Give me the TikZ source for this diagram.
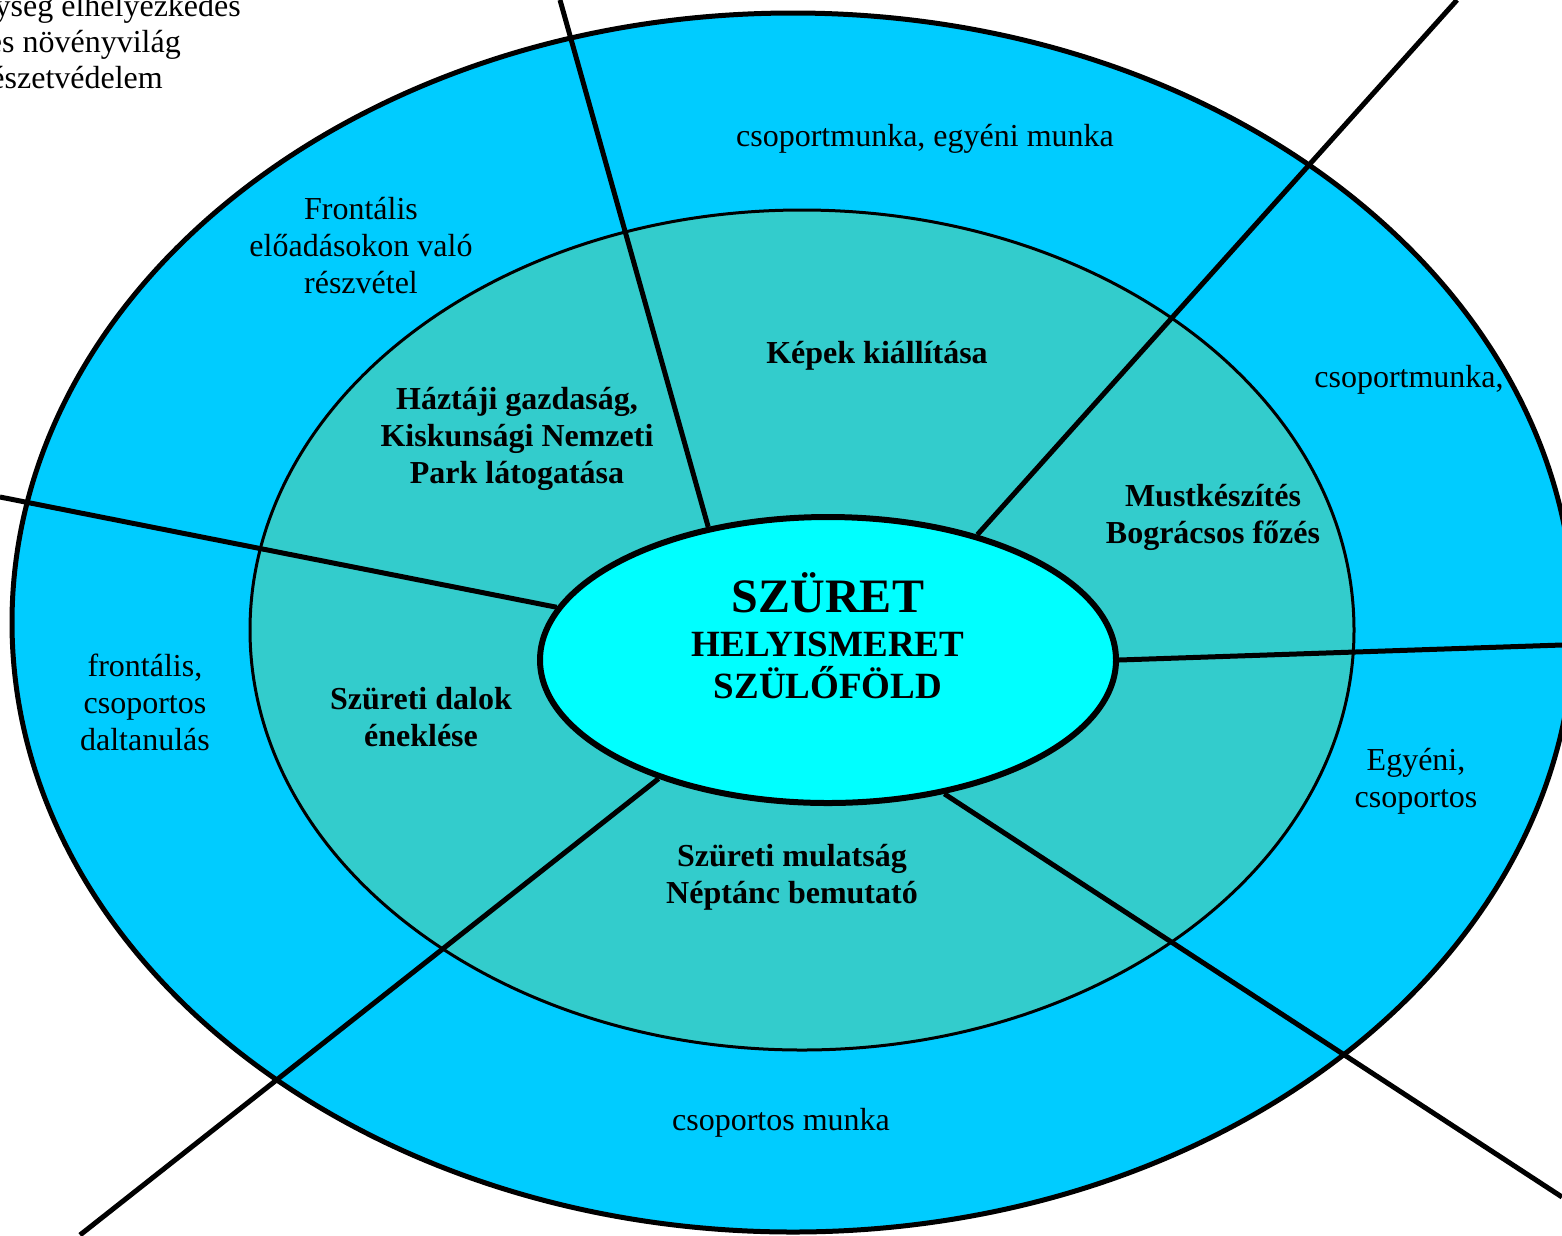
\documentclass[tikz,border=0pt]{standalone}
\usepackage{fontspec}
\setmainfont{Liberation Serif}
\usetikzlibrary{shapes.geometric,positioning}
\definecolor{outerblue}{RGB}{0,204,255}
\definecolor{midteal}{RGB}{51,204,204}
\definecolor{innercyan}{RGB}{0,255,255}

\begin{document}
\begin{tikzpicture}[x=1pt,y=-1pt,
        ring/.style={ellipse,draw,inner sep=0pt},
        spoke/.style={line width=5pt},
        lbl/.style={align=center,inner sep=0pt,font=\fontsize{32}{37}\selectfont},
        blbl/.style={align=center,inner sep=0pt,font=\fontsize{32}{37}\selectfont\bfseries},
        ttl/.style={anchor=base,inner sep=0pt,font=\fontsize{37}{43}\selectfont\bfseries}]
        \useasboundingbox (0,0) rectangle (1562,1235);
        \clip (0,0) rectangle (1562,1235);
        % rings
        \node[ring,fill=outerblue,line width=5pt,minimum width=1562pt,minimum height=1219pt] (outer) at (793,622.5){};
        \node[ring,fill=midteal,line width=3pt,minimum width=1104pt,minimum height=840pt] (middle) at (802,630){};
        \node[ring,fill=innercyan,line width=6pt,minimum width=576pt,minimum height=286pt] (centre) at (828,660){};
        % spokes
        \coordinate (s1) at (560,0);
        \coordinate (s2) at (1457,0);
        \coordinate (s3) at (0,497);
        \coordinate (s4) at (1562,645);
        \coordinate (s5) at (80,1235);
        \coordinate (s6) at (1562,1197);
        \draw[spoke] (s1) -- (centre.132);
        \draw[spoke] (s2) -- (centre.40);
        \draw[spoke] (s3) -- (centre.169);
        \draw[spoke] (s4) -- (centre.0);
        \draw[spoke] (s5) -- (centre.215);
        \draw[spoke] (s6) -- (centre.311);
        % centre text
        \node[ttl,font=\fontsize{48}{54}\selectfont\bfseries] (szuret) at (828,612){SZÜRET};
        \node[ttl] (helyism) at (828,656){HELYISMERET};
        \node[ttl] (szulofold) at (828,698){SZÜLŐFÖLD};
        % inner ring
        \node[blbl] (kepek) at (877,356){Képek kiállítása};
        \node[blbl] (haztaji) at (517,439){Háztáji gazdaság,\\Kiskunsági Nemzeti\\Park látogatása};
        \node[blbl] (must) at (1213,517){Mustkészítés\\Bográcsos főzés};
        \node[blbl] (dalok) at (421,717){Szüreti dalok\\éneklése};
        \node[blbl] (mulatsag) at (792,877){Szüreti mulatság\\Néptánc bemutató};
        % outer ring
        \node[lbl] (egyeni) at (925,139){csoportmunka, egyéni munka};
        \node[lbl] (frontalis) at (361,246){Frontális\\előadásokon való\\részvétel};
        \node[lbl] (csop) at (1409,380){csoportmunka,};
        \node[lbl] (dal) at (145,702){frontális,\\csoportos\\daltanulás};
        \node[lbl] (egycsop) at (1416,781){Egyéni,\\csoportos};
        \node[lbl] (csopmunka) at (781,1123){csoportos munka};
        % corner
        \node[lbl,anchor=base east] (hely) at (241,16){ység elhelyezkedés};
        \node[lbl,anchor=base east] (noveny) at (181,52){es növényvilág};
        \node[lbl,anchor=base east] (termved) at (163,88){észetvédelem};
\end{tikzpicture}
\end{document}
